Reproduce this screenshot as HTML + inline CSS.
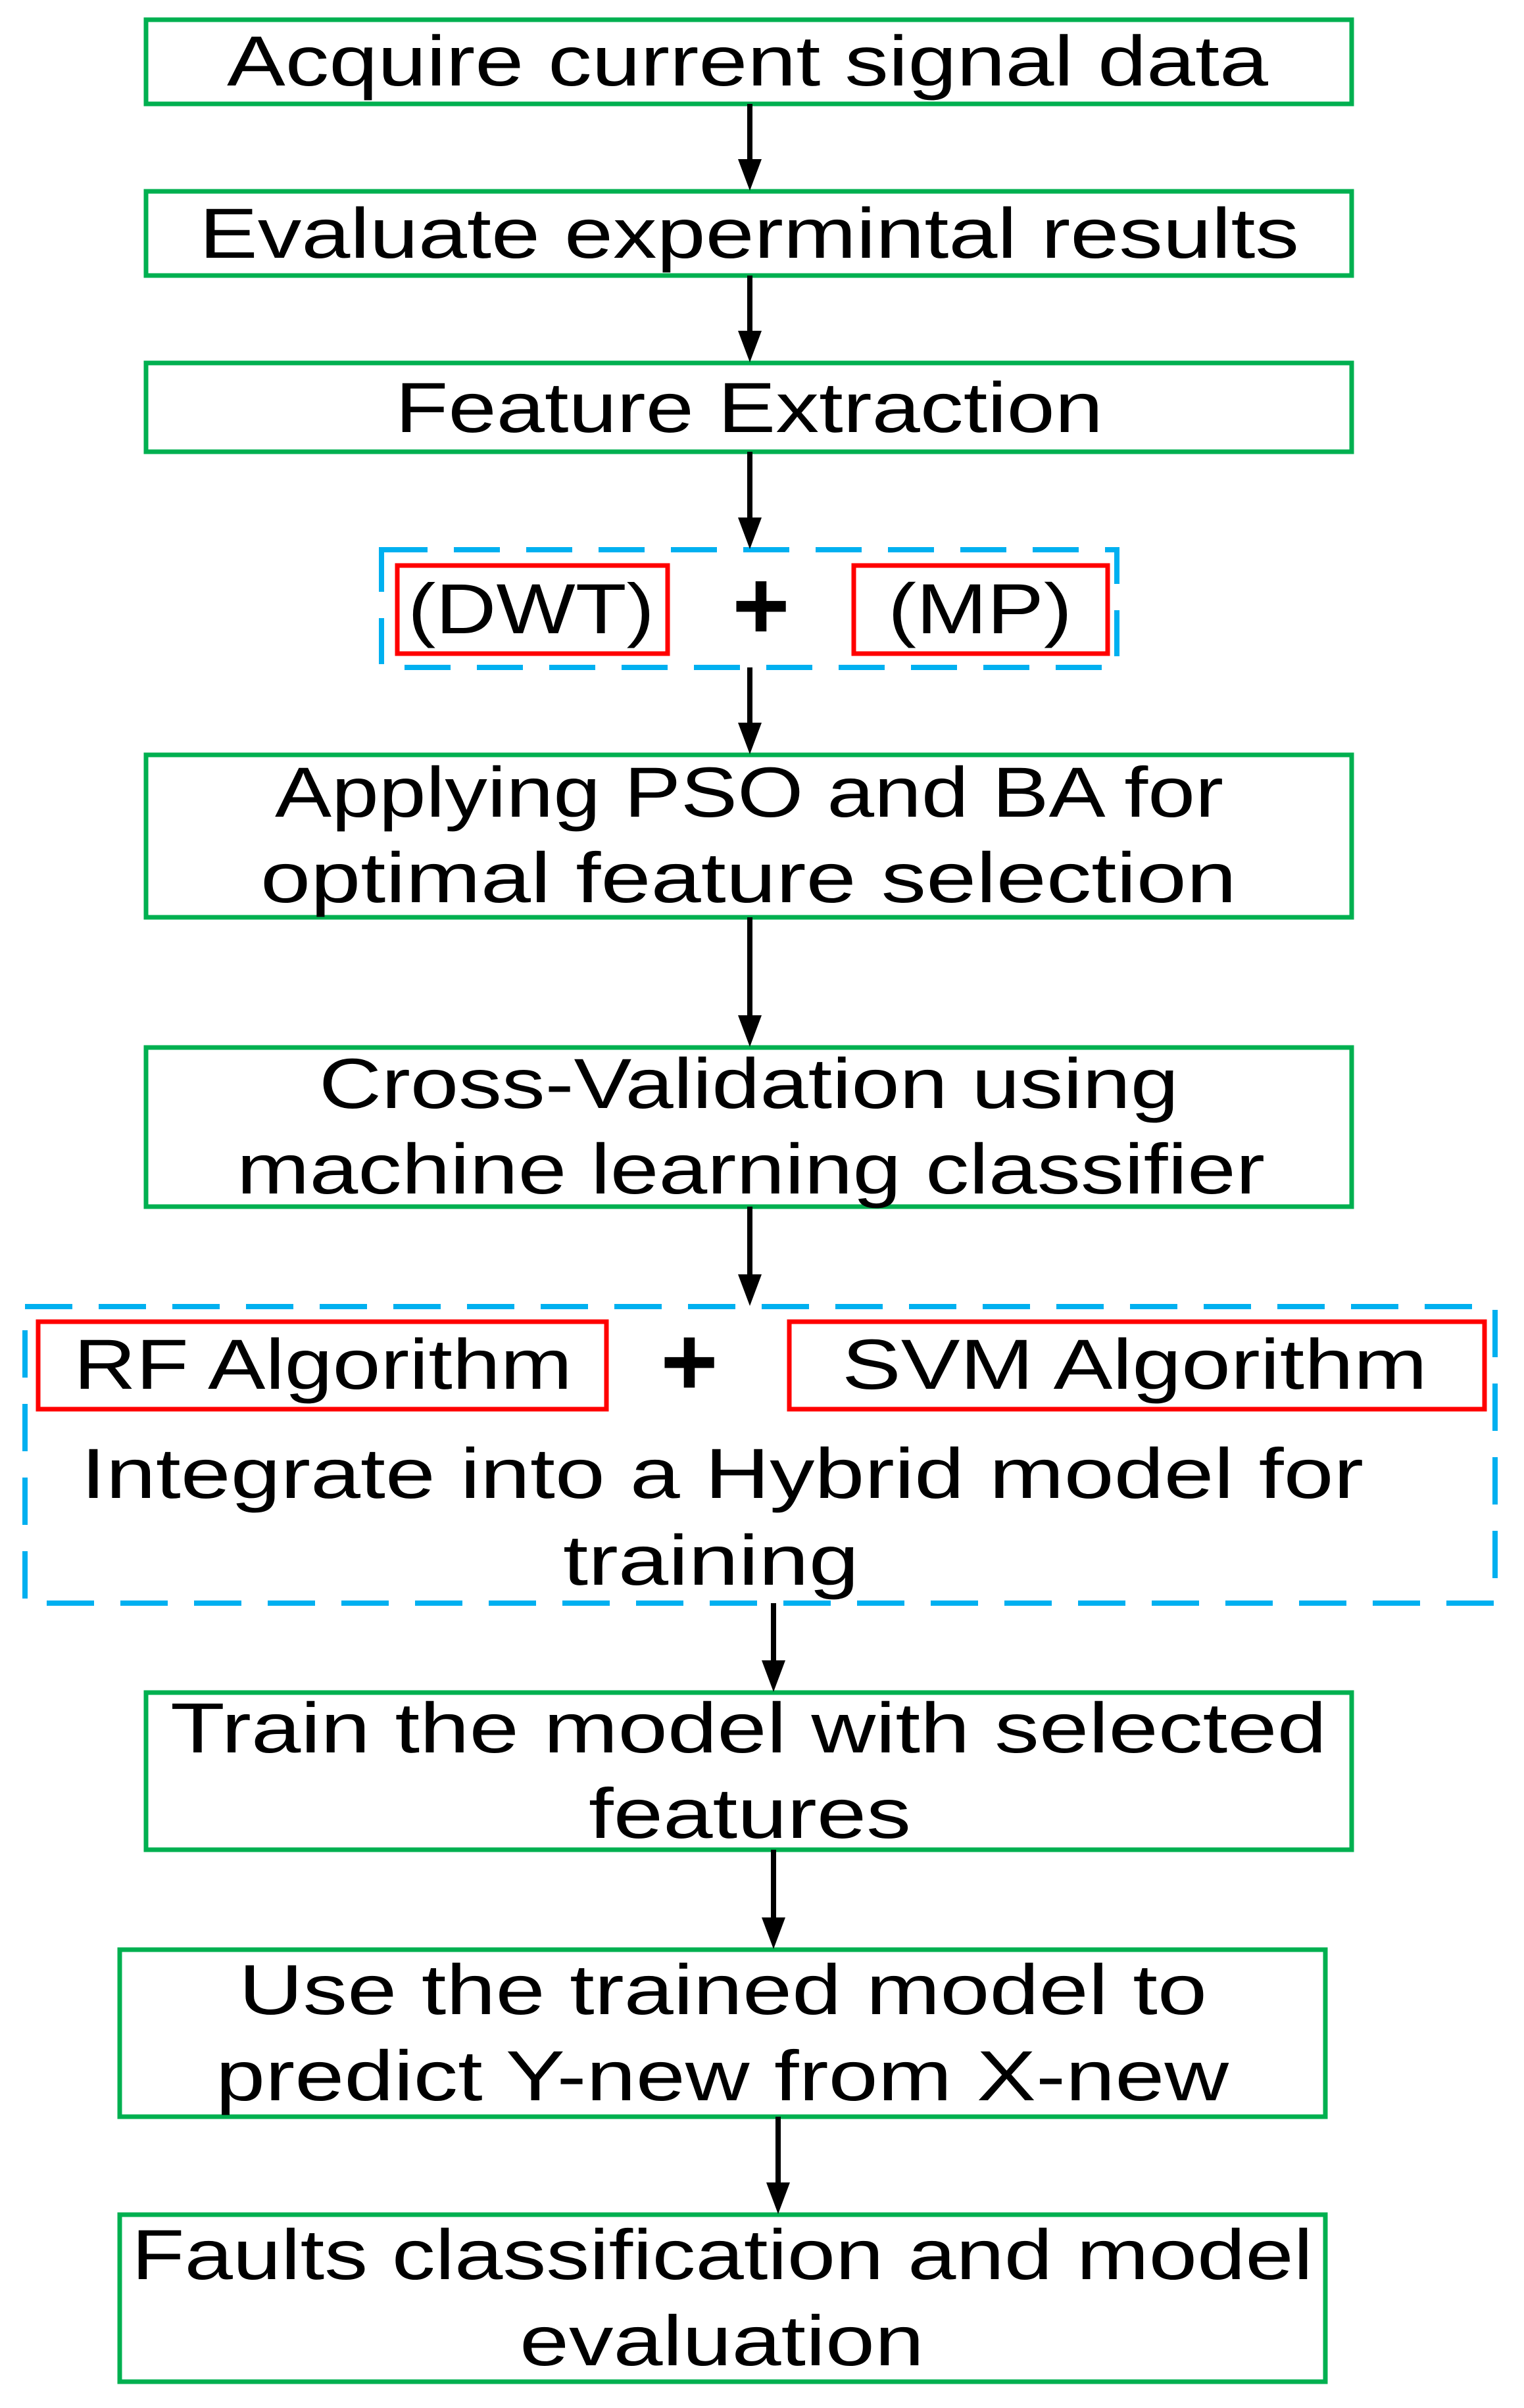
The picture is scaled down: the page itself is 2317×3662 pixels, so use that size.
<!DOCTYPE html>
<html><head><meta charset="utf-8"><style>html,body{margin:0;padding:0;background:#fff}svg{display:block}</style></head>
<body>
<svg width="2317" height="3662" viewBox="0 0 2317 3662" xmlns="http://www.w3.org/2000/svg">
<g font-family="Liberation Sans, sans-serif" font-size="108" fill="#000" text-anchor="start">
<g fill="none" stroke="#00b050" stroke-width="7">
<rect x="222" y="30" width="1833" height="128"/>
<rect x="222" y="291" width="1833" height="128"/>
<rect x="222" y="552" width="1833" height="135"/>
<rect x="222" y="1148" width="1833" height="247"/>
<rect x="222" y="1593" width="1833" height="242"/>
<rect x="222" y="2574" width="1833" height="239"/>
<rect x="182" y="2965" width="1833" height="254"/>
<rect x="182" y="3368" width="1833" height="254"/>
</g>
<g fill="none" stroke="#00b0f0" stroke-width="8" stroke-dasharray="70 40">
<rect x="580" y="836" width="1118" height="179"/>
<rect x="38" y="1987" width="2235" height="451" stroke-dasharray="72 40"/>
</g>
<g fill="none" stroke="#ff0000" stroke-width="7">
<rect x="604" y="860" width="411" height="134"/>
<rect x="1298" y="860" width="386" height="134"/>
<rect x="58" y="2010" width="864" height="133"/>
<rect x="1200" y="2010" width="1057" height="133"/>
</g>
<g stroke="#000" stroke-width="8">
<line x1="1140" y1="158" x2="1140" y2="250"/>
<line x1="1140" y1="419" x2="1140" y2="511"/>
<line x1="1140" y1="687" x2="1140" y2="795"/>
<line x1="1140" y1="1015" x2="1140" y2="1107"/>
<line x1="1140" y1="1395" x2="1140" y2="1552"/>
<line x1="1140" y1="1835" x2="1140" y2="1946"/>
<line x1="1176" y1="2438" x2="1176" y2="2533"/>
<line x1="1176" y1="2813" x2="1176" y2="2924"/>
<line x1="1183" y1="3219" x2="1183" y2="3327"/>
</g>
<g fill="#000">
<polygon points="1122,242 1158,242 1140,290"/>
<polygon points="1122,503 1158,503 1140,551"/>
<polygon points="1122,787 1158,787 1140,835"/>
<polygon points="1122,1099 1158,1099 1140,1147"/>
<polygon points="1122,1544 1158,1544 1140,1592"/>
<polygon points="1122,1938 1158,1938 1140,1986"/>
<polygon points="1158,2525 1194,2525 1176,2573"/>
<polygon points="1158,2916 1194,2916 1176,2964"/>
<polygon points="1165,3319 1201,3319 1183,3367"/>
</g>
<g>
<text x="345" y="130" textLength="1583" lengthAdjust="spacingAndGlyphs">Acquire current signal data</text>
<text x="303" y="392" textLength="1672" lengthAdjust="spacingAndGlyphs">Evaluate expermintal results</text>
<text x="601" y="657" textLength="1076" lengthAdjust="spacingAndGlyphs">Feature Extraction</text>
<text x="620" y="963" textLength="375" lengthAdjust="spacingAndGlyphs">(DWT)</text>
<text x="1350" y="963" textLength="280" lengthAdjust="spacingAndGlyphs">(MP)</text>
<text x="418" y="1242" textLength="1442" lengthAdjust="spacingAndGlyphs">Applying PSO and BA for</text>
<text x="396" y="1372" textLength="1484" lengthAdjust="spacingAndGlyphs">optimal feature selection</text>
<text x="485" y="1685" textLength="1307" lengthAdjust="spacingAndGlyphs">Cross-Validation using</text>
<text x="360" y="1815" textLength="1563" lengthAdjust="spacingAndGlyphs">machine learning classifier</text>
<text x="112" y="2112" textLength="758" lengthAdjust="spacingAndGlyphs">RF Algorithm</text>
<text x="1280" y="2112" textLength="890" lengthAdjust="spacingAndGlyphs">SVM Algorithm</text>
<text x="123" y="2278" textLength="1950" lengthAdjust="spacingAndGlyphs">Integrate into a Hybrid model for</text>
<text x="856" y="2410" textLength="450" lengthAdjust="spacingAndGlyphs">training</text>
<text x="259" y="2665" textLength="1758" lengthAdjust="spacingAndGlyphs">Train the model with selected</text>
<text x="895" y="2795" textLength="490" lengthAdjust="spacingAndGlyphs">features</text>
<text x="363" y="3063" textLength="1472" lengthAdjust="spacingAndGlyphs">Use the trained model to</text>
<text x="328" y="3194" textLength="1540" lengthAdjust="spacingAndGlyphs">predict Y-new from X-new</text>
<text x="200" y="3466" textLength="1796" lengthAdjust="spacingAndGlyphs">Faults classification and model</text>
<text x="790" y="3597" textLength="615" lengthAdjust="spacingAndGlyphs">evaluation</text>
</g>
<text x="1157" y="972" text-anchor="middle" font-size="150" font-weight="bold">+</text>
<text x="1048" y="2122" text-anchor="middle" font-size="150" font-weight="bold">+</text>
</g>
</svg>
</body></html>
